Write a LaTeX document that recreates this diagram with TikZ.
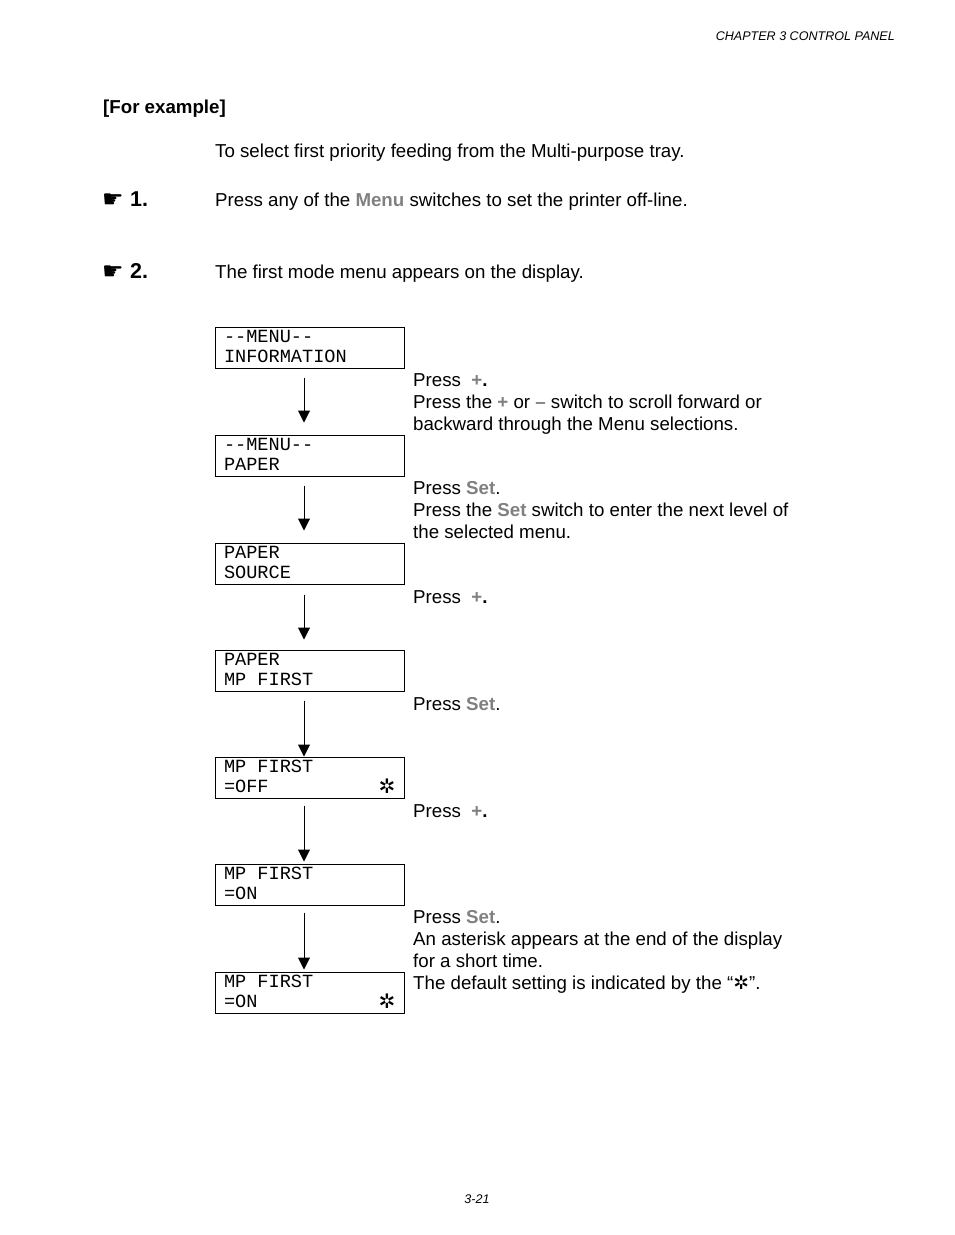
\documentclass[tikz,border=0pt]{standalone}
\usepackage{fontspec}
\usepackage{xcolor}
\setmainfont{Liberation Sans}
\setmonofont{Liberation Mono}
\newfontfamily\symfont{DejaVu Sans}
\usetikzlibrary{arrows.meta,positioning,calc}
\definecolor{keygray}{RGB}{128,128,128}
\newcommand{\keyname}[1]{\textbf{\textcolor{keygray}{#1}}}
\newcommand{\starmark}{{\symfont\char"2732}}
\newcommand{\dsp}{\hspace{0.6em}}

\begin{document}
\begin{tikzpicture}[
  x=1pt,y=-1pt,
  display/.style={draw,line width=1pt,minimum width=189pt,minimum height=41pt,inner sep=0pt,inner xsep=8.5pt,
    text width=172pt,text depth=23pt,align=left,font=\ttfamily\fontsize{18.6}{20}\selectfont},
  txt/.style={anchor=base west,inner sep=0pt,align=left,font=\fontsize{18.7}{22}\selectfont},
  starnode/.style={anchor=base,inner sep=0pt,font=\fontsize{20}{20}\selectfont},
  hand/.style={anchor=base west,inner sep=0pt,font=\fontsize{24}{24}\selectfont},
  stepno/.style={anchor=base west,inner sep=0pt,font=\bfseries\fontsize{21.5}{22}\selectfont},
  flow/.style={-{Triangle[width=12pt,length=12pt]},line width=1pt},
]
\useasboundingbox (0,0) rectangle (954,1235);
\node[anchor=base east,inner sep=0pt,font=\itshape\fontsize{12.55}{14}\selectfont] (head) at (895,40) {CHAPTER 3 CONTROL PANEL};
\node[anchor=base west,inner sep=0pt,font=\bfseries\fontsize{18.7}{22}\selectfont] (ex) at (103,113) {[For example]};
\node[txt] (aim) at (215,157) {To select first priority feeding from the Multi-purpose tray.};
% steps
\node[hand] (h1) at (102,207) {\symfont\char"261B};
\node[stepno] (n1) at (130,206) {1.};
\node[txt] (s1) at (215,206) {Press any of the \keyname{Menu} switches to set the printer off-line.};
\node[hand] (h2) at (102,279) {\symfont\char"261B};
\node[stepno] (n2) at (130,278) {2.};
\node[txt] (s2) at (215,278) {The first mode menu appears on the display.};
% displays
\node[display] (M1) at (310,347.5) {--MENU--\\INFORMATION};
\node[display] (M2) at (310,455.5) {--MENU--\\PAPER};
\node[display] (M3) at (310,563.5) {PAPER\\SOURCE};
\node[display] (M4) at (310,670.5) {PAPER\\MP\dsp FIRST};
\node[display] (M5) at (310,777.5) {MP\dsp FIRST\\=OFF};
\node[display] (M6) at (310,884.5) {MP\dsp FIRST\\=ON};
\node[display] (M7) at (310,992.5) {MP\dsp FIRST\\=ON};
\node[starnode] (A5) at (387,793) {\starmark};
\node[starnode] (A7) at (387,1008) {\starmark};
% arrows
\draw[flow,shorten <=9pt,shorten >=12pt] ([xshift=-6pt]M1.south) -- ([xshift=-6pt]M2.north);
\draw[flow,shorten <=9pt,shorten >=12pt] ([xshift=-6pt]M2.south) -- ([xshift=-6pt]M3.north);
\draw[flow,shorten <=10pt,shorten >=10pt] ([xshift=-6pt]M3.south) -- ([xshift=-6pt]M4.north);
\draw[flow,shorten <=9pt] ([xshift=-6pt]M4.south) -- ([xshift=-6pt]M5.north);
\draw[flow,shorten <=7pt,shorten >=2pt] ([xshift=-6pt]M5.south) -- ([xshift=-6pt]M6.north);
\draw[flow,shorten <=7pt,shorten >=2pt] ([xshift=-6pt]M6.south) -- ([xshift=-6pt]M7.north);
% notes
\node[txt] (T1) at (413,430) {Press\ \ \keyname{+}\textbf{.}\\Press the \keyname{+} or \keyname{--} switch to scroll forward or\\backward through the Menu selections.};
\node[txt] (T2) at (413,538) {Press \keyname{Set}.\\Press the \keyname{Set} switch to enter the next level of\\the selected menu.};
\node[txt] (T3) at (413,603) {Press\ \ \keyname{+}\textbf{.}};
\node[txt] (T4) at (413,710) {Press \keyname{Set}.};
\node[txt] (T5) at (413,817) {Press\ \ \keyname{+}\textbf{.}};
\node[txt] (T6) at (413,989) {Press \keyname{Set}.\\An asterisk appears at the end of the display\\for a short time.\\The default setting is indicated by the “\starmark”.};
\node[anchor=base,inner sep=0pt,font=\itshape\fontsize{12.55}{14}\selectfont] (foot) at (477,1203) {3-21};
\end{tikzpicture}
\end{document}
